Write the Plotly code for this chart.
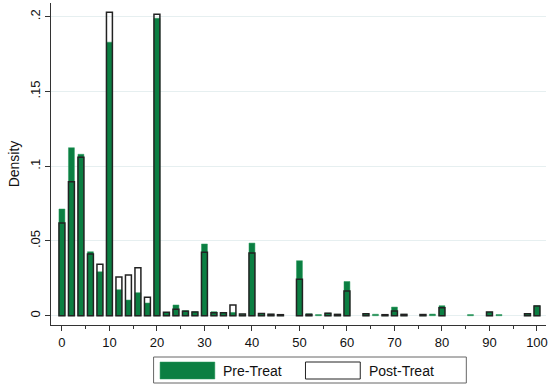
import plotly.graph_objects as go

bins = list(range(0, 101, 2))

pre_treat = [0.0714, 0.1124, 0.108, 0.0428, 0.0294, 0.183, 0.0174, 0.0105, 0.0154, 0.0085,
             0.199, 0.0022, 0.0072, 0.0035, 0.0027, 0.048, 0.0027, 0.0022, 0.0022, 0.001,
             0.0486, 0.0013, 0.001, 0.0007, None, 0.0368, 0.0013, 0.0008, 0.0018, 0.0009,
             0.0229, None, 0.0012, 0.001, 0.0005, 0.0058, 0.0009, None, 0.0008, 0.0011,
             0.0067, None, None, 0.0008, None, 0.0025, 0.0008, None, None, 0.0013,
             0.0067]

post_treat = [0.062, 0.0896, 0.106, 0.0413, 0.0344, 0.203, 0.0259, 0.0272, 0.0321, 0.0123,
              0.2016, 0.0023, 0.0043, 0.003, 0.0025, 0.0424, 0.002, 0.002, 0.0072, 0.0011,
              0.042, 0.0015, 0.001, 0.0007, None, 0.0244, 0.0009, None, 0.0016, 0.0009,
              0.0166, None, 0.0013, None, 0.0007, 0.0032, 0.0009, None, 0.0008, None,
              0.0053, None, None, None, None, 0.0025, None, None, None, 0.0013,
              0.0065]

x_ticks = list(range(0, 101, 10))
y_ticks = [0, 0.05, 0.1, 0.15, 0.2]
y_tick_labels = ["0", ".05", ".1", ".15", ".2"]
legend_labels = ["Pre-Treat", "Post-Treat"]

GREEN = "#0b7f42"
FONT = "Liberation Sans, Arial, sans-serif"

W, H = 551, 385
L, R, T, B = 51, 3, 3, 60


def px(x):
    return (x - L) / (W - L - R)


def py(y):
    return (H - B - y) / (H - T - B)


fig = go.Figure()
fig.add_trace(go.Bar(x=bins, y=pre_treat, width=1.25, name=legend_labels[0],
                     marker=dict(color=GREEN, line=dict(color="#2a9a5c", width=0.5)),
                     showlegend=False))
fig.add_trace(go.Bar(x=bins, y=post_treat, width=1.25, name=legend_labels[1],
                     marker=dict(color="rgba(0,0,0,0)", line=dict(color="#222222", width=1.5)),
                     showlegend=False))

shapes = [
    dict(type="rect", xref="paper", yref="paper", x0=px(154), x1=px(468), y0=py(383), y1=py(357),
         line=dict(color="#666666", width=1), fillcolor="white"),
    dict(type="rect", xref="paper", yref="paper", x0=px(160.5), x1=px(215.5), y0=py(379), y1=py(362),
         line=dict(color="#2a9a5c", width=0.5), fillcolor=GREEN),
    dict(type="rect", xref="paper", yref="paper", x0=px(306.5), x1=px(361.5), y0=py(379), y1=py(362),
         line=dict(color="#222222", width=1), fillcolor="white"),
]
annotations = [
    dict(xref="paper", yref="paper", x=px(222), y=py(370.5), text=legend_labels[0], showarrow=False,
         xanchor="left", yanchor="middle", font=dict(family=FONT, size=14, color="#111")),
    dict(xref="paper", yref="paper", x=px(368), y=py(370.5), text=legend_labels[1], showarrow=False,
         xanchor="left", yanchor="middle", font=dict(family=FONT, size=14, color="#111")),
]

fig.update_layout(
    width=W, height=H,
    margin=dict(l=L, r=R, t=T, b=B),
    barmode="overlay",
    paper_bgcolor="white", plot_bgcolor="white",
    font=dict(family=FONT, size=13, color="#111"),
    shapes=shapes, annotations=annotations,
    hovermode=False,
    xaxis=dict(range=[-2.3, 101.9], tickvals=x_ticks, ticks="outside", ticklen=5, tickwidth=1,
               tickcolor="#333", showline=True, linecolor="#333", linewidth=1, showgrid=False,
               zeroline=False, tickfont=dict(size=13),
               minor=dict(dtick=5, tick0=0, ticks="outside", ticklen=3, tickcolor="#333", showgrid=False)),
    yaxis=dict(range=[-0.0062, 0.2092], tickvals=y_ticks, ticktext=y_tick_labels, tickangle=-90,
               ticks="outside", ticklen=5, tickwidth=1, tickcolor="#333", showline=True,
               linecolor="#333", linewidth=1, showgrid=True, gridcolor="#e6eff0", gridwidth=1,
               zeroline=False, tickfont=dict(size=13),
               title=dict(text="Density", font=dict(size=14), standoff=4)),
)

fig.write_html("out.html", config={"displayModeBar": False},
               post_script="document.body.style.margin='0';document.body.style.overflow='hidden';")
